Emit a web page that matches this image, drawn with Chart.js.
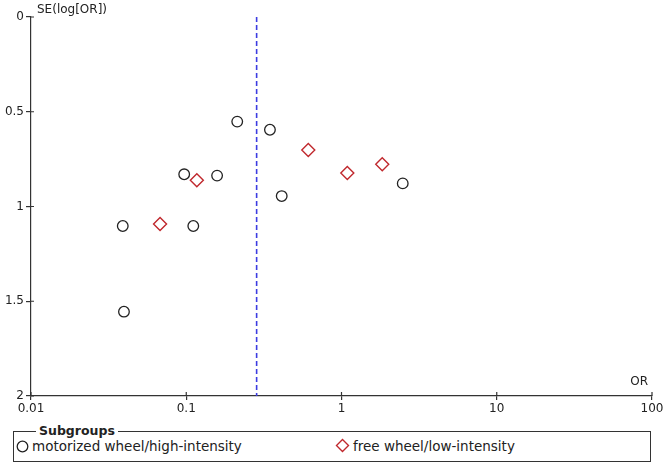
<!DOCTYPE html>
<html>
<head>
<meta charset="utf-8">
<script src="https://cdn.jsdelivr.net/npm/chart.js@4"></script>
<style>
  body { margin: 0; background: #fff; font-family: "DejaVu Sans", sans-serif; }
  #wrap { position: relative; width: 666px; height: 465px; }
  #box { position: absolute; left: 0; top: 0; width: 666px; height: 420px; }
  #legend {
    position: absolute; left: 13px; top: 431px; width: 636px; height: 29px;
    border: 1px solid #333; font-size: 13.5px; color: #222;
  }
  #legend .title {
    position: absolute; left: 22px; top: -10px; background: #fff; padding: 0 3px;
    font-weight: bold; font-size: 12.5px; line-height: 17px;
  }
  #legend .item { position: absolute; top: 6px; line-height: 17px; white-space: nowrap; }
  #legend svg { vertical-align: -2px; margin-right: 3px; }
</style>
</head>
<body>
<div id="wrap">
  <div id="box"><canvas id="funnel"></canvas></div>
  <div id="legend">
    <span class="title">Subgroups</span>
    <span class="item" style="left: 2px;"><svg width="13" height="13"><circle cx="6.5" cy="6.5" r="5.3" fill="none" stroke="#222" stroke-width="1.3"/></svg><span id="lab0"></span></span>
    <span class="item" style="left: 321px;"><svg width="15" height="15"><path d="M7.5 1.5 L13.5 7.5 L7.5 13.5 L1.5 7.5 Z" fill="none" stroke="#c0282d" stroke-width="1.4"/></svg><span id="lab1"></span></span>
  </div>
</div>
<script>
// Funnel plot data (OR vs SE(log[OR]))
const groupNames = ['motorized wheel/high-intensity', 'free wheel/low-intensity'];

const highOR = [0.213, 0.346, 0.097, 0.158, 0.412, 0.039, 0.111, 0.0397, 2.48];
const highSE = [0.552, 0.595, 0.830, 0.837, 0.945, 1.103, 1.103, 1.555, 0.878];

const lowOR = [0.611, 0.117, 0.0678, 1.09, 1.83];
const lowSE = [0.702, 0.862, 1.092, 0.823, 0.777];

const pooledOR = 0.284;
const xTicks = [0.01, 0.1, 1, 10, 100];
const yTicks = [0, 0.5, 1, 1.5, 2];

document.getElementById('lab0').textContent = groupNames[0];
document.getElementById('lab1').textContent = groupNames[1];

function toPoints(xs, ys) {
    return xs.map((x, i) => ({ x: x, y: ys[i] }));
}

// Axis titles + the inner half of the tick marks (ticks cross the axis)
const axisExtras = {
    id: 'axisExtras',
    afterDraw(chart) {
        const ctx = chart.ctx;
        const a = chart.chartArea;
        const xs = chart.scales.x;
        const ys = chart.scales.y;
        ctx.save();
        ctx.strokeStyle = '#333';
        ctx.lineWidth = 1.2;
        ctx.beginPath();
        xTicks.forEach(v => {
            const px = xs.getPixelForValue(v);
            ctx.moveTo(px, a.bottom);
            ctx.lineTo(px, a.bottom - 4);
        });
        yTicks.forEach(v => {
            const py = ys.getPixelForValue(v);
            ctx.moveTo(a.left, py);
            ctx.lineTo(a.left + 3, py);
        });
        ctx.stroke();

        ctx.fillStyle = '#222';
        ctx.font = '12px "DejaVu Sans"';
        ctx.textBaseline = 'middle';
        ctx.textAlign = 'left';
        ctx.fillText('SE(log[OR])', a.left + 6, a.top - 7);
        ctx.textAlign = 'right';
        ctx.fillText('OR', a.right - 4, a.bottom - 14);
        ctx.restore();
    }
};

const ctx = document.getElementById('funnel').getContext('2d');
new Chart(ctx, {
    type: 'scatter',
    data: {
        datasets: [
            {
                label: 'pooled',
                type: 'line',
                data: [{ x: pooledOR, y: 0 }, { x: pooledOR, y: 2 }],
                borderColor: 'rgb(60, 60, 225)',
                borderWidth: 1.6,
                borderDash: [5, 3],
                pointRadius: 0,
                fill: false
            },
            {
                label: groupNames[0],
                data: toPoints(highOR, highSE),
                pointStyle: 'circle',
                pointRadius: 5.3,
                pointBorderWidth: 1.3,
                borderColor: '#222',
                backgroundColor: 'rgba(0,0,0,0)'
            },
            {
                label: groupNames[1],
                data: toPoints(lowOR, lowSE),
                pointStyle: 'rectRot',
                pointRadius: 6.5,
                pointBorderWidth: 1.4,
                borderColor: '#c0282d',
                backgroundColor: 'rgba(0,0,0,0)'
            }
        ]
    },
    options: {
        responsive: true,
        maintainAspectRatio: false,
        animation: false,
        layout: { padding: { top: 17, right: 14, left: 0, bottom: 0 } },
        plugins: {
            legend: { display: false },
            tooltip: { enabled: false }
        },
        scales: {
            x: {
                type: 'logarithmic',
                min: 0.01,
                max: 100,
                afterBuildTicks: s => { s.ticks = xTicks.map(v => ({ value: v })); },
                afterFit: s => { s.height = 24; },
                border: { color: '#333', width: 1.2 },
                grid: { drawOnChartArea: false, tickLength: 4, color: '#333', lineWidth: 1.2 },
                ticks: {
                    color: '#222',
                    font: { family: 'DejaVu Sans', size: 12 },
                    padding: 2,
                    maxRotation: 0,
                    callback: v => String(v)
                }
            },
            y: {
                type: 'linear',
                reverse: true,
                min: 0,
                max: 2,
                afterBuildTicks: s => { s.ticks = yTicks.map(v => ({ value: v })); },
                afterFit: s => { s.width = 31; },
                border: { color: '#333', width: 1.2 },
                grid: { drawOnChartArea: false, tickLength: 5, color: '#333', lineWidth: 1.2 },
                ticks: {
                    color: '#222',
                    font: { family: 'DejaVu Sans', size: 12 },
                    padding: 2,
                    callback: v => String(v)
                }
            }
        }
    },
    plugins: [axisExtras]
});
</script>
</body>
</html>
